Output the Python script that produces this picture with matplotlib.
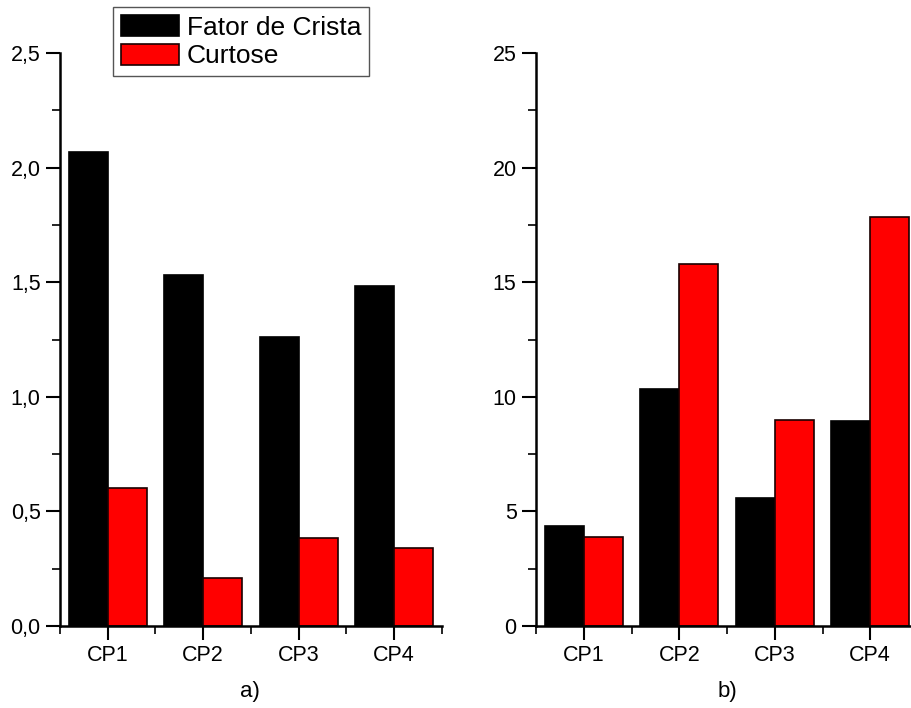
import matplotlib.pyplot as plt
from matplotlib.ticker import MultipleLocator, FixedLocator, FuncFormatter

plt.rcParams['font.family'] = ['Liberation Sans', 'DejaVu Sans']

categories = ['CP1', 'CP2', 'CP3', 'CP4']
fator_crista_a = [2.07, 1.53, 1.26, 1.485]
curtose_a = [0.60, 0.21, 0.384, 0.34]
fator_crista_b = [4.36, 10.34, 5.6, 8.93]
curtose_b = [3.87, 15.81, 8.97, 17.86]

x = list(range(1, len(categories) + 1))
w = 0.41

fig = plt.figure(figsize=(9.12, 7.08), dpi=100)
ax1 = fig.add_axes([60 / 912, 82 / 708, 382 / 912, 573 / 708])
ax2 = fig.add_axes([536 / 912, 82 / 708, 382 / 912, 573 / 708])


def draw(ax, black, red, ymax, major, minor, comma):
    b1 = ax.bar([i - w / 2 for i in x], black, width=w, color='black',
                edgecolor='black', linewidth=1.2, label='Fator de Crista')
    b2 = ax.bar([i + w / 2 for i in x], red, width=w, color='#ff0000',
                edgecolor='#1a0000', linewidth=1.2, label='Curtose')
    ax.set_xlim(0.5, 4.5)
    ax.set_ylim(0, ymax)
    ax.spines['top'].set_visible(False)
    ax.spines['right'].set_visible(False)
    ax.spines['left'].set_linewidth(1.8)
    ax.spines['bottom'].set_linewidth(1.8)
    ax.set_xticks(x)
    ax.set_xticklabels(categories)
    ax.xaxis.set_minor_locator(FixedLocator([0.5, 1.5, 2.5, 3.5, 4.5]))
    ax.yaxis.set_major_locator(MultipleLocator(major))
    ax.yaxis.set_minor_locator(MultipleLocator(minor))
    if comma:
        ax.yaxis.set_major_formatter(FuncFormatter(lambda v, p: f'{v:.1f}'.replace('.', ',')))
    ax.tick_params(which='major', direction='out', length=10, width=1.5,
                   labelsize=15.5, pad=4)
    ax.tick_params(which='minor', direction='out', length=6, width=1.2)
    return b1, b2


h1, h2 = draw(ax1, fator_crista_a, curtose_a, 2.5, 0.5, 0.25, True)
draw(ax2, fator_crista_b, curtose_b, 25, 5, 2.5, False)

fig.text(250 / 912, 1 - 692 / 708, 'a)', fontsize=16, ha='center', va='center')
fig.text(727 / 912, 1 - 692 / 708, 'b)', fontsize=16, ha='center', va='center')

leg = fig.legend(handles=[h1, h2], loc='upper left',
                 bbox_to_anchor=(113 / 912, 1 - 7 / 708), fontsize=19,
                 fancybox=False, edgecolor='#555555', framealpha=1,
                 handlelength=2.2, handleheight=0.85, handletextpad=0.3,
                 borderpad=0.3, labelspacing=0.15, borderaxespad=0)
leg.get_frame().set_linewidth(1.0)

fig.savefig('out.png', dpi=100)
